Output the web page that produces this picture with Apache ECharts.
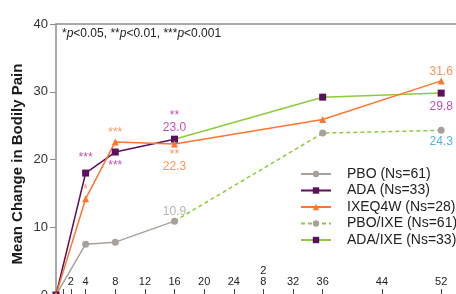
<!DOCTYPE html>
<html>
<head>
<meta charset="utf-8">
<script src="https://cdn.jsdelivr.net/npm/echarts@6/dist/echarts.min.js"></script>
<style>
    html, body { margin: 0; padding: 0; background: #fff; }
    #chart { width: 456px; height: 294px; }
</style>
</head>
<body>
<div id="chart"></div>
<script>
// weeks on the x axis
const tickWeeks = [1, 2, 4, 8, 12, 16, 20, 24, 28, 32, 36, 44, 52];
const labelWeeks = [2, 4, 8, 12, 16, 20, 24, 28, 32, 36, 44, 52];

// series values, [week, mean change]
const pbo = [[0, 0], [4, 7.5], [8, 7.8], [16, 10.9]];
const ada = [[0, 0], [4, 18.0], [8, 21.1], [16, 23.0]];
const ixeq4w = [[0, 0], [4, 14.2], [8, 22.6], [16, 22.3], [36, 25.9], [52, 31.6]];
const pboIxe = [[16, 10.9], [36, 23.9], [52, 24.3]];
const adaIxe = [[16, 23.0], [36, 29.2], [52, 29.8]];

const names = ['PBO (Ns=61)', 'ADA (Ns=33)', 'IXEQ4W (Ns=28)', 'PBO/IXE (Ns=61)', 'ADA/IXE (Ns=33)'];

// text notes: [week, value, text]
const adaNotes = [[4, 18.0, '***']];
const adaWk16Notes = [[16, 23.0, '**\n23.0']];
const adaBelowNotes = [[8, 21.1, '***']];
const ixeNotes = [[4, 14.2, '*'], [8, 22.6, '***'], [52, 31.6, '31.6']];
const ixeBelowNotes = [[16, 22.3, '**\n22.3']];
const pboNotes = [[16, 10.9, '10.9']];
const adaIxeNotes = [[52, 29.8, '29.8']];
const pboIxeNotes = [[52, 24.3, '24.3']];

const GRAY = '#a8a19b';
const PURPLE = '#5b0f5c';
const ORANGE = '#ff7530';
const GREEN = '#8ccc3c';
const MAGENTA = '#b3229f';
const BLUE = '#2a9fd8';
const FONT = 'Liberation Sans, Arial, sans-serif';

const chart = echarts.init(document.getElementById('chart'));

function noteSeries(data, color, position, distance) {
    return {
        type: 'scatter',
        symbol: 'circle',
        symbolSize: 1,
        itemStyle: { color: 'rgba(0,0,0,0)' },
        silent: true,
        data: data.map(d => ({ value: [d[0], d[1]], text: d[2] })),
        label: {
            show: true,
            position: position,
            distance: distance,
            color: color,
            fontSize: 12,
            lineHeight: 12,
            fontFamily: FONT,
            formatter: p => p.data.text
        },
        z: 5
    };
}

function lineSeries(name, data, color, symbol, size, extra) {
    return Object.assign({
        name: name,
        type: 'line',
        data: data,
        symbol: symbol,
        symbolSize: size,
        showSymbol: true,
        lineStyle: { color: color, width: 1.5 },
        itemStyle: { color: color },
        animation: false,
        z: 3
    }, extra || {});
}

chart.setOption({
    animation: false,
    textStyle: { fontFamily: FONT },
    grid: { left: 56, right: 0, top: 24, bottom: -1, outerBoundsMode: 'none', containLabel: false },
    legend: {
        orient: 'vertical',
        left: 300,
        top: 167,
        padding: 0,
        itemWidth: 30,
        itemHeight: 8,
        itemGap: 2.5,
        textStyle: { fontSize: 14, color: '#222', padding: [0, 0, 0, 11] },
        data: names
    },
    graphic: [{
        type: 'text',
        left: 62,
        top: 28,
        style: {
            text: '*{i|p}<0.05, **{i|p}<0.01, ***{i|p}<0.001',
            fontSize: 12,
            fill: '#222',
            fontFamily: FONT,
            rich: { i: { fontStyle: 'italic', fontSize: 12, fill: '#222' } }
        }
    }, {
        // y axis title
        type: 'text',
        x: 18,
        y: 164,
        rotation: Math.PI / 2,
        style: {
            text: 'Mean Change in Bodily Pain',
            fontSize: 15,
            fontWeight: 'bold',
            fill: '#1a1a1a',
            fontFamily: FONT,
            align: 'center',
            verticalAlign: 'middle'
        }
    }],
    xAxis: [{
        type: 'value',
        min: 0,
        max: 54,
        splitLine: { show: false },
        axisLine: { show: false },
        axisTick: {
            show: true,
            inside: true,
            length: 6,
            customValues: tickWeeks,
            lineStyle: { color: '#444' }
        },
        axisLabel: {
            inside: true,
            margin: 8,
            fontSize: 11,
            color: '#222',
            customValues: labelWeeks,
            formatter: v => (v === 28 ? '2\n8' : String(v))
        }
    }, {
        type: 'value',
        position: 'top',
        min: 0,
        max: 54,
        splitLine: { show: false },
        axisTick: { show: false },
        axisLabel: { show: false },
        axisLine: { show: true, lineStyle: { color: '#8c8c8c', width: 1.5 } }
    }],
    yAxis: {
        type: 'value',
        min: 0,
        max: 40,
        interval: 10,
        splitLine: { show: false },
        axisLine: { show: true, lineStyle: { color: '#8c8c8c', width: 1.5 } },
        axisTick: { show: true, length: 6, lineStyle: { color: '#8c8c8c' } },
        axisLabel: { fontSize: 13, color: '#333', margin: 8 }
    },
    series: [
        lineSeries(names[0], pbo, GRAY, 'circle', 7),
        lineSeries(names[1], ada, PURPLE, 'rect', 7),
        lineSeries(names[2], ixeq4w, ORANGE, 'triangle', 7),
        lineSeries(names[3], pboIxe.map((d, i) => (i === 0 ? { value: d, symbol: 'none' } : d)), GREEN, 'circle', 7, {
            lineStyle: { color: GREEN, width: 1.5, type: [4, 3] },
            itemStyle: { color: GRAY },
            z: 2
        }),
        lineSeries(names[4], adaIxe.map((d, i) => (i === 0 ? { value: d, symbol: 'none' } : d)), GREEN, 'rect', 7, {
            itemStyle: { color: PURPLE },
            z: 2
        }),
        noteSeries(adaNotes, MAGENTA, 'top', 9),
        noteSeries(adaWk16Notes, MAGENTA, 'top', 5),
        noteSeries(adaBelowNotes, MAGENTA, 'bottom', 7),
        noteSeries(ixeNotes, ORANGE, 'top', 3),
        noteSeries(ixeBelowNotes, ORANGE, 'bottom', 4),
        noteSeries(pboNotes, GRAY, 'top', 3),
        noteSeries(adaIxeNotes, MAGENTA, 'bottom', 7),
        noteSeries(pboIxeNotes, BLUE, 'bottom', 5)
    ]
});
</script>
</body>
</html>
